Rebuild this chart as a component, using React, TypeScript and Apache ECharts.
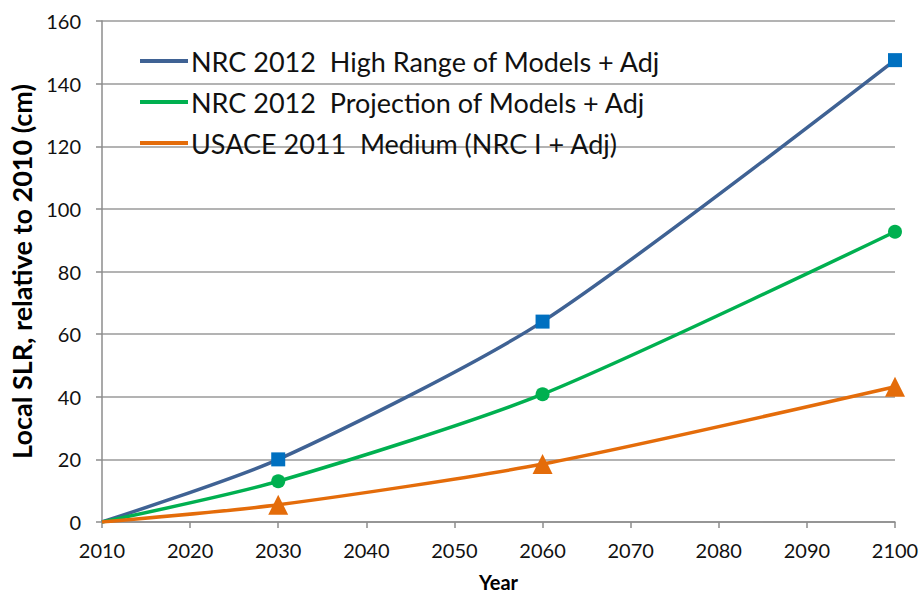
import React, { useEffect, useRef } from "react";
import * as echarts from "echarts";

const years = [2010, 2030, 2060, 2100];
const highRange = [0, 20, 64, 147.5];
const projection = [0, 13, 40.8, 92.7];
const usace = [0, 5.5, 18.5, 43.2];
const seriesNames = [
  "NRC 2012  High Range of Models + Adj",
  "NRC 2012  Projection of Models + Adj",
  "USACE 2011  Medium (NRC I + Adj)",
];
const lineColors = ["#3F6294", "#00B050", "#E46C0A"];
const markerColors = ["#0070C0", "#00B050", "#E46C0A"];
const markerShapes = ["rect", "circle", "triangle"];
const markerSizes = [14, 14, 20];

const FONT = "Lato, 'Open Sans', sans-serif";

export default function App() {
  const ref = useRef<HTMLDivElement>(null);
  useEffect(() => {
    if (!ref.current) return;
    const chart = echarts.init(ref.current, undefined, { renderer: "svg" });
    const all = [highRange, projection, usace];
    chart.setOption({
      animation: false,
      backgroundColor: "#ffffff",
      textStyle: { fontFamily: FONT },
      grid: { left: 102, right: 24, top: 21, bottom: 74, outerBoundsMode: "none", containLabel: false },
      legend: {
        orient: "vertical",
        left: 135,
        top: 41,
        itemWidth: 48,
        itemHeight: 4,
        itemGap: 11,
        icon: "rect",
        textStyle: { fontFamily: FONT, fontSize: 27, color: "#111", lineHeight: 30, padding: [0, 0, 0, -2] },
        data: seriesNames.map((n, i) => ({ name: n, itemStyle: { color: lineColors[i] } })),
      },
      xAxis: {
        type: "value",
        min: 2010,
        max: 2100,
        interval: 10,
        name: "Year",
        nameLocation: "middle",
        nameGap: 50,
        nameTextStyle: { fontFamily: FONT, fontWeight: "bold", fontSize: 20, color: "#000" },
        axisLine: { lineStyle: { color: "#8c8c8c", width: 1.5 } },
        axisTick: { show: true, length: 6, lineStyle: { color: "#8c8c8c", width: 1.5 } },
        axisLabel: { fontFamily: FONT, fontSize: 20, color: "#111", margin: 18, formatter: (v: number) => String(v) },
        splitLine: { show: false },
      },
      yAxis: {
        type: "value",
        min: 0,
        max: 160,
        interval: 20,
        name: "Local SLR, relative to 2010 (cm)",
        nameLocation: "middle",
        nameGap: 56,
        nameTextStyle: { fontFamily: FONT, fontWeight: "bold", fontSize: 27, color: "#000" },
        axisLine: { show: true, lineStyle: { color: "#8c8c8c", width: 1.5 } },
        axisTick: { show: true, length: 6, lineStyle: { color: "#8c8c8c", width: 1.5 } },
        axisLabel: { fontFamily: FONT, fontSize: 20, color: "#111", margin: 21 },
        splitLine: { show: true, lineStyle: { color: "#9a9a9a", width: 1.5 } },
      },
      series: all.map((vals, i) => ({
        name: seriesNames[i],
        type: "line",
        smooth: 0.25,
        symbol: markerShapes[i],
        symbolSize: markerSizes[i],
        lineStyle: { color: lineColors[i], width: 3.5 },
        itemStyle: { color: markerColors[i] },
        data: years.map((y, j) => ({
          value: [y, vals[j]],
          symbol: j === 0 ? "none" : markerShapes[i],
        })),
      })),
    });
    return () => chart.dispose();
  }, []);
  return (
    <div
      ref={ref}
      style={{ position: "fixed", left: 0, top: 0, width: 919, height: 596 }}
    />
  );
}
